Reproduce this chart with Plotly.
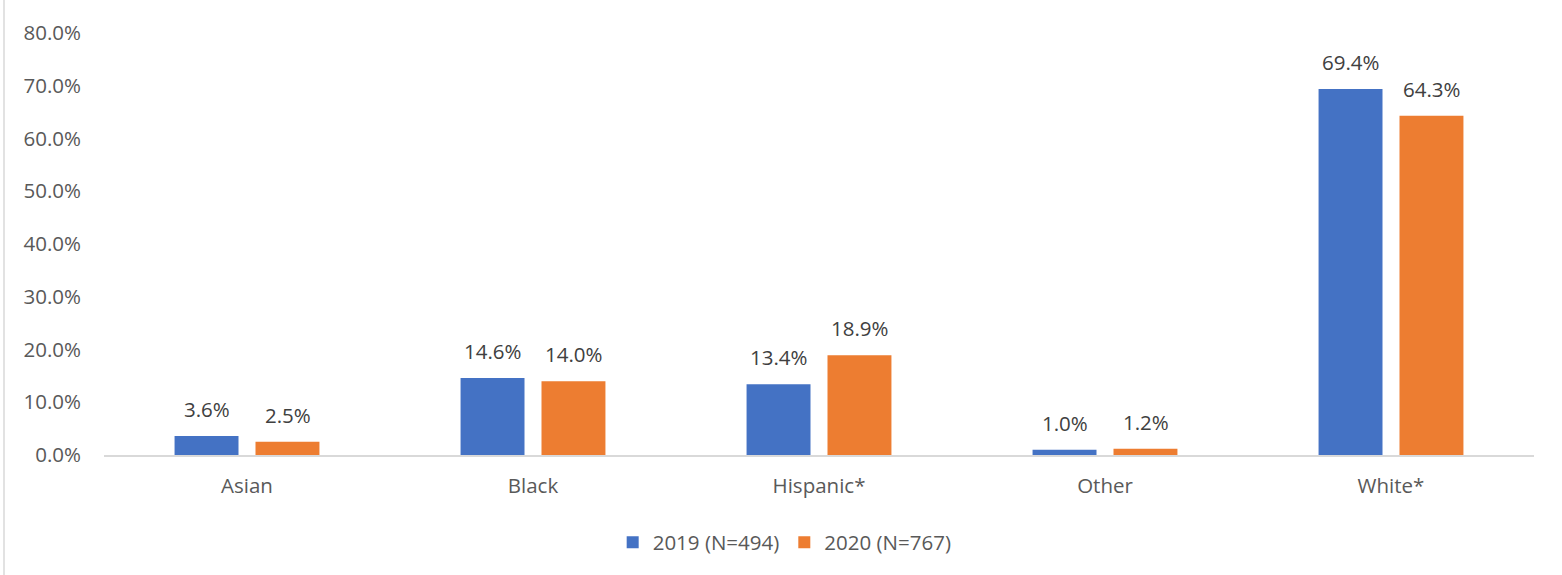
import plotly.graph_objects as go

categories = ["Asian", "Black", "Hispanic*", "Other", "White*"]
series_names = ["2019 (N=494)", "2020 (N=767)"]
values_2019 = [3.6, 14.6, 13.4, 1.0, 69.4]
values_2020 = [2.5, 14.0, 18.9, 1.2, 64.3]
colors = ["#4472C4", "#ED7D31"]
tick_vals = [0, 10, 20, 30, 40, 50, 60, 70, 80]
tick_text = [f"{v:.1f}%" for v in tick_vals]

font_family = "Open Sans, Noto Sans, sans-serif"
text_color = "#595959"
fs = 20.5

fig = go.Figure()
for name, vals, col in zip(series_names, [values_2019, values_2020], colors):
    fig.add_trace(go.Bar(
        x=categories, y=vals, name=name,
        marker=dict(color=col, line=dict(width=0)),
        cliponaxis=False,
    ))

annotations = []
for vals, shift in zip([values_2019, values_2020], [-40.5, 40.5]):
    for c, v in zip(categories, vals):
        annotations.append(dict(
            x=c, y=v, xref="x", yref="y", text=f"{v:.1f}%", showarrow=False,
            xshift=shift, yshift=11, yanchor="bottom",
            font=dict(family=font_family, size=fs, color="#404040"),
        ))

fig.update_layout(
    width=1562, height=575,
    margin=dict(l=104, r=28, t=33, b=120),
    paper_bgcolor="white", plot_bgcolor="white",
    barmode="group", bargap=0.434, bargroupgap=0.21,
    font=dict(family=font_family, size=fs, color=text_color),
    showlegend=True,
    legend=dict(orientation="h", x=0.476, xanchor="center", y=-0.16, yanchor="top",
                font=dict(family=font_family, size=fs, color=text_color),
                traceorder="normal"),
    xaxis=dict(showline=True, linecolor="#D9D9D9", linewidth=1.5, ticks="",
               tickfont=dict(family=font_family, size=fs, color=text_color),
               ticklabelstandoff=12,
               showgrid=False, zeroline=False),
    yaxis=dict(range=[0, 80], tickvals=tick_vals, ticktext=tick_text,
               showgrid=False, zeroline=False, showline=False, ticks="",
               ticklabelstandoff=22,
               tickfont=dict(family=font_family, size=fs, color=text_color)),
    annotations=annotations,
    shapes=[dict(type="line", xref="paper", yref="paper",
                 x0=(4 - 104) / 1430, x1=(4 - 104) / 1430,
                 y0=455 / 422, y1=-120 / 422,
                 line=dict(color="#D9D9D9", width=1.5))],
)

fig.write_html("out.html")
